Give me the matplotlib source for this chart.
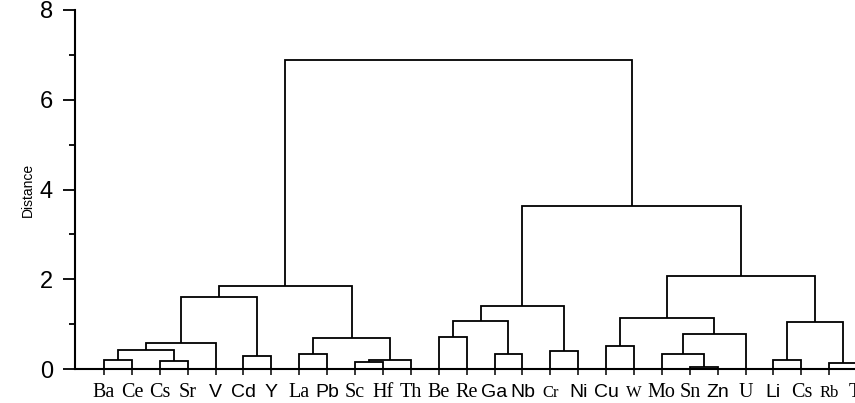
import numpy as np
import matplotlib
matplotlib.use('Agg')
from matplotlib import pyplot as plt

# leaf order as read left to right
leaf_labels = ['Ba', 'Ce', 'Cs', 'Sr', 'V', 'Cd', 'Y', 'La', 'Pb', 'Sc', 'Hf', 'Th', 'Be', 'Re',
               'Ga', 'Nb', 'Cr', 'Ni', 'Cu', 'W', 'Mo', 'Sn', 'Zn', 'U', 'Li', 'Cs', 'Rb', 'Ti']

# linkage: node ids 0..27 are leaves, merge k creates node 28+k
merge_left = [0, 2, 28, 30, 5, 31, 7, 9, 35, 34, 33, 12, 14, 39, 16, 41, 18, 21, 20, 46, 44, 24, 26, 49, 48, 43, 38]
merge_right = [1, 3, 29, 4, 6, 32, 8, 10, 11, 36, 37, 13, 15, 40, 17, 42, 19, 22, 45, 23, 47, 25, 27, 50, 51, 52, 53]
merge_height = [0.20, 0.18, 0.42, 0.59, 0.30, 1.61, 0.33, 0.16, 0.20, 0.70, 1.85, 0.71, 0.34, 1.08,
                0.40, 1.41, 0.52, 0.04, 0.34, 0.79, 1.14, 0.20, 0.14, 1.05, 2.07, 3.64, 6.88]

y_ticks = [0, 2, 4, 6, 8]

# label styling seen in the picture (mixed fonts)
sans_labels = {'V', 'Cd', 'Y', 'Pb', 'Ga', 'Nb', 'Ni', 'Cu', 'Zn', 'Li'}
small_labels = {'Cr', 'W', 'Rb'}

n = len(leaf_labels)
node_x = list(range(n))
node_h = [0.0] * n

fig = plt.figure(figsize=(8.55, 4.03), dpi=100)
ax = fig.add_axes([75 / 855, 34 / 403, 810 / 855, 359 / 403])

for a, b, h in zip(merge_left, merge_right, merge_height):
    xa, xb = node_x[a], node_x[b]
    ax.plot([xa, xa, xb, xb], [node_h[a], h, h, node_h[b]], color='black', lw=1.3,
            solid_joinstyle='miter', solid_capstyle='butt')
    node_x.append((xa + xb) / 2)
    node_h.append(h)

ax.set_xlim(-1.04, 28)
ax.set_ylim(0, 8)

for s in ['top', 'right']:
    ax.spines[s].set_visible(False)
for s in ['left', 'bottom']:
    ax.spines[s].set_linewidth(1.5)

ax.set_yticks(y_ticks)
ax.set_yticks([1, 3, 5, 7], minor=True)
ax.tick_params(axis='y', which='major', length=9, width=1.3, pad=7, labelsize=17)
ax.tick_params(axis='y', which='minor', length=4, width=1.3)
for t in ax.get_yticklabels():
    t.set_fontfamily('Liberation Sans')

ax.set_xticks(range(n))
ax.set_xticklabels(leaf_labels)
# labels share a common baseline in the original
ax.tick_params(axis='x', length=4, width=1.1, pad=16)
for t, lab in zip(ax.get_xticklabels(), leaf_labels):
    t.set_verticalalignment('baseline')
    if lab in sans_labels:
        t.set_fontfamily('Liberation Sans')
        t.set_fontsize(14)
    else:
        t.set_fontfamily('Liberation Serif')
        t.set_fontsize(12 if lab in small_labels else 14.5)

ax.set_ylabel('Distance', fontsize=10, fontfamily='Liberation Sans')
ax.yaxis.set_label_coords(-0.05, 0.5)

plt.savefig('out.png', dpi=100)
plt.close()
